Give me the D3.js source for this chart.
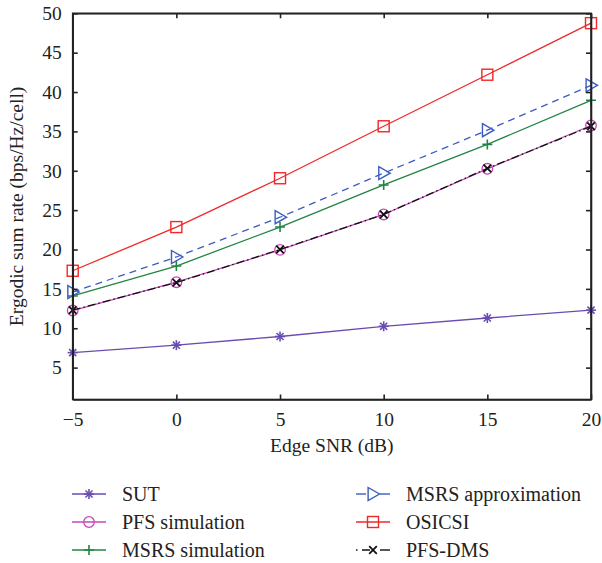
<!DOCTYPE html>
<html><head><meta charset="utf-8">
<script src="https://cdn.jsdelivr.net/npm/d3@7/dist/d3.min.js"></script>
<style>body{margin:0;background:#fff}svg text{font-family:"Liberation Serif","Times New Roman",serif;fill:#222}</style>
</head><body>
<script>
const snr = [-5, 0, 5, 10, 15, 20];
const sut = [6.9, 7.85, 8.95, 10.25, 11.3, 12.3];
const pfsSim = [12.25, 15.85, 19.95, 24.45, 30.25, 35.75];
const msrsSim = [14.1, 17.9, 22.85, 28.2, 33.35, 38.95];
const msrsApprox = [14.6, 19.05, 24.1, 29.7, 35.15, 40.85];
const osicsi = [17.3, 22.85, 29.05, 35.65, 42.2, 48.75];
const pfsDms = [12.3, 15.8, 20.0, 24.45, 30.3, 35.65];
const xTicks = [-5, 0, 5, 10, 15, 20];
const yTicks = [5, 10, 15, 20, 25, 30, 35, 40, 45, 50];
const seriesNames = ["SUT", "PFS simulation", "MSRS simulation", "MSRS approximation", "OSICSI", "PFS-DMS"];

const W = 602, H = 563;
const m = {l: 72.7, r: 591, t: 13.3, b: 399.5};
const FS = 19.5;
const svg = d3.select("body").append("svg").attr("width", W).attr("height", H);
const x = d3.scaleLinear().domain([-5, 20]).range([m.l, m.r]);
const y = d3.scaleLinear().domain([0.95, 50]).range([m.b, m.t]);

const series = [
  {name: seriesNames[0], vals: sut, color: "#6a4cb0", dash: null, legDash: null, marker: "star"},
  {name: seriesNames[1], vals: pfsSim, color: "#c548b5", dash: null, legDash: null, marker: "circle"},
  {name: seriesNames[2], vals: msrsSim, color: "#228444", dash: null, legDash: null, marker: "plus"},
  {name: seriesNames[3], vals: msrsApprox, color: "#3b5cc0", dash: "7,5", legDash: "10,24", marker: "tri"},
  {name: seriesNames[4], vals: osicsi, color: "#f02828", dash: null, legDash: null, marker: "square"},
  {name: seriesNames[5], vals: pfsDms, color: "#111", dash: "8,3,1.5,3", legDash: "1.5,4.5,8,24", marker: "x"}
];

function drawMarker(g, type, cx, cy, color) {
  if (type === "star") {
    const r = 5;
    for (let a = 0; a < 180; a += 45) {
      const rad = a * Math.PI / 180;
      g.append("line").attr("x1", cx - r * Math.cos(rad)).attr("y1", cy - r * Math.sin(rad))
        .attr("x2", cx + r * Math.cos(rad)).attr("y2", cy + r * Math.sin(rad))
        .attr("stroke", color).attr("stroke-width", 1.6);
    }
  } else if (type === "circle") {
    g.append("circle").attr("cx", cx).attr("cy", cy).attr("r", 5.3).attr("fill", "none").attr("stroke", color).attr("stroke-width", 1.3);
  } else if (type === "plus") {
    const r = 5;
    g.append("path").attr("d", `M${cx - r},${cy}H${cx + r}M${cx},${cy - r}V${cy + r}`).attr("stroke", color).attr("stroke-width", 1.6);
  } else if (type === "tri") {
    const r = 6.5;
    g.append("path").attr("d", `M${cx - r * 0.75},${cy - r}L${cx + r},${cy}L${cx - r * 0.75},${cy + r}Z`).attr("fill", "none").attr("stroke", color).attr("stroke-width", 1.4);
  } else if (type === "square") {
    const r = 5.5;
    g.append("rect").attr("x", cx - r).attr("y", cy - r).attr("width", 2 * r).attr("height", 2 * r).attr("fill", "none").attr("stroke", color).attr("stroke-width", 1.4);
  } else if (type === "x") {
    const r = 3.8;
    g.append("path").attr("d", `M${cx - r},${cy - r}L${cx + r},${cy + r}M${cx - r},${cy + r}L${cx + r},${cy - r}`).attr("stroke", color).attr("stroke-width", 1.8);
  }
}

// series
const line = d3.line().x((d, i) => x(snr[i])).y(d => y(d));
series.forEach(s => {
  const g = svg.append("g");
  g.append("path").datum(s.vals).attr("d", line).attr("fill", "none").attr("stroke", s.color)
    .attr("stroke-width", 1.3).attr("stroke-dasharray", s.dash);
  s.vals.forEach((v, i) => drawMarker(g, s.marker, x(snr[i]), y(v), s.color));
});

// axes box
const tl = 5;
const fmt = d => d < 0 ? "\u2212" + Math.abs(d) : String(d);
const xb = svg.append("g").attr("transform", `translate(0,${m.b})`).call(d3.axisBottom(x).tickValues(xTicks).tickSizeInner(-tl).tickSizeOuter(0).tickPadding(13).tickFormat(fmt));
const xt = svg.append("g").attr("transform", `translate(0,${m.t})`).call(d3.axisTop(x).tickValues(xTicks).tickSizeInner(-tl).tickSizeOuter(0).tickFormat(""));
const yl = svg.append("g").attr("transform", `translate(${m.l},0)`).call(d3.axisLeft(y).tickValues(yTicks).tickSizeInner(-tl).tickSizeOuter(0).tickPadding(11).tickFormat(fmt));
const yr = svg.append("g").attr("transform", `translate(${m.r},0)`).call(d3.axisRight(y).tickValues(yTicks).tickSizeInner(-tl).tickSizeOuter(0).tickFormat(""));
[xb, xt, yl, yr].forEach(a => {
  a.attr("font-family", null);
  a.selectAll("path,line").attr("stroke", "#222").attr("stroke-width", 1.6);
  a.selectAll("text").attr("font-size", FS).attr("fill", "#222");
});
svg.append("rect").attr("x", m.l).attr("y", m.t).attr("width", m.r - m.l).attr("height", m.b - m.t).attr("fill", "none").attr("stroke", "#222").attr("stroke-width", 1.6);

// axis titles
svg.append("text").attr("x", (m.l + m.r) / 2).attr("y", 452).attr("text-anchor", "middle").attr("font-size", FS).text("Edge SNR (dB)");
svg.append("text").attr("transform", `translate(23,${(m.t + m.b) / 2}) rotate(-90)`).attr("text-anchor", "middle").attr("font-size", FS).text("Ergodic sum rate (bps/Hz/cell)");

// legend
const legPos = [[72, 494], [72, 522], [72, 550], [356, 494], [356, 522], [356, 550]];
series.forEach((s, i) => {
  const [lx, ly] = legPos[i];
  const g = svg.append("g");
  g.append("line").attr("x1", lx).attr("x2", lx + 34).attr("y1", ly).attr("y2", ly).attr("stroke", s.color)
    .attr("stroke-width", 1.4).attr("stroke-dasharray", s.legDash);
  if (s.legDash) {
    g.append("line").attr("x1", lx + 24).attr("x2", lx + 34).attr("y1", ly).attr("y2", ly).attr("stroke", s.color).attr("stroke-width", 1.4);
  }
  drawMarker(g, s.marker, lx + 17, ly, s.color);
  g.append("text").attr("x", lx + 50).attr("y", ly + 6.5).attr("font-size", 20).text(s.name);
});
</script>
</body></html>
